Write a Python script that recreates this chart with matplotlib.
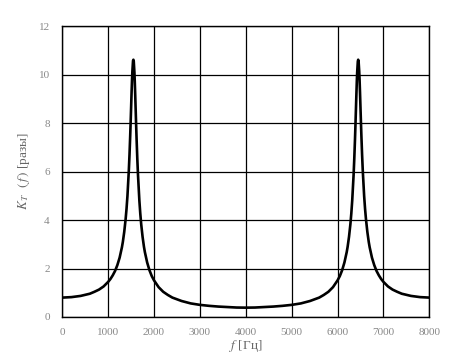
import matplotlib
matplotlib.use("Agg")
import matplotlib.pyplot as plt

freq_hz = [0, 200, 400, 600, 700, 800, 900, 1000, 1050, 1100,
           1150, 1200, 1250, 1300, 1320, 1350, 1380, 1400, 1420, 1450,
           1465, 1480, 1490, 1500, 1510, 1520, 1528, 1542, 1550, 1558,
           1572, 1580, 1590, 1600, 1610, 1620, 1635, 1650, 1680, 1700,
           1720, 1750, 1780, 1800, 1850, 1900, 1950, 2000, 2100, 2200,
           2300, 2400, 2600, 2800, 3000, 3200, 3400, 3600, 3800, 4000,
           4200, 4400, 4600, 4800, 5000, 5200, 5400, 5600, 5700, 5800,
           5900, 6000, 6050, 6100, 6150, 6200, 6220, 6250, 6280, 6300,
           6320, 6350, 6365, 6380, 6390, 6400, 6410, 6420, 6428, 6442,
           6450, 6458, 6472, 6480, 6490, 6500, 6510, 6520, 6535, 6550,
           6580, 6600, 6620, 6650, 6680, 6700, 6750, 6800, 6850, 6900,
           6950, 7000, 7100, 7200, 7300, 7400, 7600, 7800, 8000]
k_t = [0.80, 0.82, 0.87, 0.96, 1.04, 1.13, 1.26, 1.45, 1.57, 1.72,
       1.90, 2.14, 2.45, 2.88, 3.10, 3.51, 4.03, 4.46, 4.99, 6.04,
       6.70, 7.47, 8.04, 8.64, 9.25, 9.80, 10.15, 10.58, 10.62, 10.55,
       10.10, 9.72, 9.14, 8.52, 7.90, 7.32, 6.54, 5.87, 4.81, 4.27,
       3.83, 3.31, 2.90, 2.68, 2.25, 1.93, 1.69, 1.51, 1.23, 1.04,
       0.91, 0.80, 0.66, 0.56, 0.50, 0.46, 0.43, 0.41, 0.39, 0.385,
       0.39, 0.41, 0.43, 0.46, 0.50, 0.56, 0.66, 0.80, 0.91, 1.04,
       1.23, 1.51, 1.69, 1.93, 2.25, 2.68, 2.90, 3.31, 3.83, 4.27,
       4.81, 5.87, 6.54, 7.32, 7.90, 8.52, 9.14, 9.72, 10.10, 10.55,
       10.62, 10.58, 10.15, 9.80, 9.25, 8.64, 8.04, 7.47, 6.70, 6.04,
       4.99, 4.46, 4.03, 3.51, 3.10, 2.88, 2.45, 2.14, 1.90, 1.72,
       1.57, 1.45, 1.26, 1.13, 1.04, 0.96, 0.87, 0.82, 0.80]

x_ticks = [0, 1000, 2000, 3000, 4000, 5000, 6000, 7000, 8000]
y_ticks = [0, 2, 4, 6, 8, 10, 12]

plt.rcParams['font.family'] = ['Liberation Serif', 'DejaVu Serif']
plt.rcParams['mathtext.fontset'] = 'stix'

fig = plt.figure(figsize=(4.73, 3.56), dpi=100)
ax = fig.add_axes([0.1317, 0.1096, 0.7759, 0.8165])

ax.plot(freq_hz, k_t, color='black', lw=1.9, solid_joinstyle='round')

ax.set_xlim(0, 8000)
ax.set_ylim(0, 12)
ax.set_xticks(x_ticks)
ax.set_yticks(y_ticks)
ax.grid(True, color='black', lw=0.9)
ax.set_axisbelow(True)
for s in ax.spines.values():
    s.set_color('black')
    s.set_linewidth(1.0)
ax.tick_params(length=0, labelsize=8, labelcolor='#888888')
ax.tick_params(axis='x', pad=8)
ax.tick_params(axis='y', pad=9)

ax.set_xlabel(r"$f$ [Гц]", fontsize=9.5, color='#666666', labelpad=1)
ax.set_ylabel(r"$K_{\,T}\ \ (\,f\,)$ [разы]", fontsize=9.5, color='#666666', labelpad=5)

fig.savefig("out.png", dpi=100)
